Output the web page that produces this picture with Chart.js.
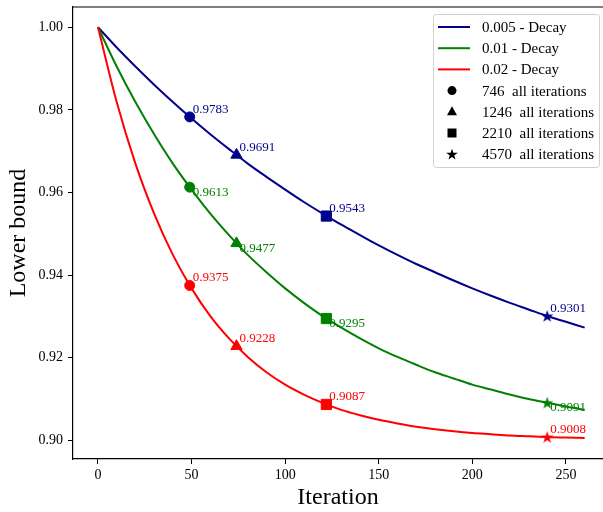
<!DOCTYPE html>
<html>
<head>
<meta charset="utf-8">
<script src="https://cdn.jsdelivr.net/npm/chart.js@4.4.0/dist/chart.umd.min.js"></script>
<style>
  html, body { margin: 0; padding: 0; background: #fff; overflow: hidden; }
  #wrap { width: 603px; height: 512px; }
</style>
</head>
<body>
<div id="wrap"><canvas id="boundChart" width="603" height="512"></canvas></div>
<script>
// curve samples
const iterations = [0, 10, 20, 30, 40, 50, 60, 70, 80, 90, 100, 110, 120, 130,
    140, 150, 160, 170, 180, 190, 200, 210, 220, 230, 240, 250, 260];
const decay005 = [1.0000, 0.9951, 0.9905, 0.9861, 0.9819, 0.9779, 0.9741, 0.9705, 0.9670,
    0.9638, 0.9607, 0.9577, 0.9549, 0.9522, 0.9497, 0.9472, 0.9449, 0.9427, 0.9407,
    0.9387, 0.9368, 0.9350, 0.9333, 0.9317, 0.9301, 0.9287, 0.9273];
const decay01 = [1.0000, 0.9905, 0.9819, 0.9741, 0.9670, 0.9607, 0.9549, 0.9497, 0.9449,
    0.9407, 0.9368, 0.9333, 0.9301, 0.9273, 0.9247, 0.9223, 0.9202, 0.9183, 0.9165,
    0.9150, 0.9135, 0.9123, 0.9111, 0.9100, 0.9091, 0.9082, 0.9074];
const decay02 = [1.0000, 0.9819, 0.9670, 0.9549, 0.9449, 0.9368, 0.9301, 0.9247, 0.9202,
    0.9165, 0.9135, 0.9111, 0.9091, 0.9074, 0.9061, 0.9050, 0.9041, 0.9033, 0.9027,
    0.9022, 0.9018, 0.9015, 0.9012, 0.9010, 0.9008, 0.9007, 0.9006];

// marked points
const markerIter = [49, 74, 122, 240];
const marker005 = [0.9783, 0.9691, 0.9543, 0.9301];
const marker01 = [0.9613, 0.9477, 0.9295, 0.9091];
const marker02 = [0.9375, 0.9228, 0.9087, 0.9008];
const markerNames = ['746  all iterations', '1246  all iterations', '2210  all iterations', '4570  all iterations'];

const seriesNames = ['0.005 - Decay', '0.01 - Decay', '0.02 - Decay'];
const seriesColors = ['#00008b', '#008000', '#ff0000'];

const xTickValues = [0, 50, 100, 150, 200, 250];
const yTickValues = [0.90, 0.92, 0.94, 0.96, 0.98, 1.00];

const FONT = "'Liberation Serif', 'Times New Roman', serif";
Chart.defaults.font.family = FONT;
Chart.defaults.color = '#000';

function starPath(ctx, cx, cy, r) {
    const inner = r * 0.4;
    ctx.beginPath();
    for (let i = 0; i < 10; i++) {
        const rad = (i % 2 === 0) ? r : inner;
        const a = -Math.PI / 2 + i * Math.PI / 5;
        const px = cx + Math.cos(a) * rad, py = cy + Math.sin(a) * rad;
        if (i === 0) ctx.moveTo(px, py); else ctx.lineTo(px, py);
    }
    ctx.closePath();
}

function makeStar(color) {
    const c = document.createElement('canvas');
    c.width = 14; c.height = 14;
    const g = c.getContext('2d');
    g.fillStyle = color;
    starPath(g, 7, 7.5, 6.5);
    g.fill();
    return c;
}

const toPts = (xs, ys) => xs.map((x, i) => ({ x: x, y: ys[i] }));

const curveSet = (ys, i, order) => ({
    label: seriesNames[i],
    data: toPts(iterations, ys),
    borderColor: seriesColors[i],
    borderWidth: 2,
    pointRadius: 0,
    cubicInterpolationMode: 'monotone',
    fill: false,
    order: order
});

const markerSet = (ys, i, shift) => ({
    label: seriesNames[i] + ' marks',
    data: toPts(markerIter, ys),
    showLine: false,
    pointStyle: ['circle', 'triangle', 'rect', makeStar(seriesColors[i])],
    pointRadius: [5, 6.5, 7.2, 7],
    pointBackgroundColor: seriesColors[i],
    pointBorderColor: seriesColors[i],
    pointBorderWidth: 1,
    labelShift: shift,
    labelColor: seriesColors[i],
    order: 0
});

// top spine (right spine falls outside the picture)
const framePlugin = {
    id: 'frame',
    afterDraw(chart) {
        const { ctx, chartArea: a } = chart;
        ctx.save();
        ctx.strokeStyle = '#000';
        ctx.lineWidth = 1.2;
        ctx.beginPath();
        ctx.moveTo(a.left, a.top);
        ctx.lineTo(a.right + 2, a.top);
        ctx.stroke();
        ctx.restore();
    }
};

// value text next to each marker
const valueLabels = {
    id: 'valueLabels',
    afterDatasetsDraw(chart) {
        const ctx = chart.ctx;
        ctx.save();
        ctx.font = '13px ' + FONT;
        ctx.textAlign = 'left';
        ctx.textBaseline = 'middle';
        chart.data.datasets.forEach((ds, di) => {
            if (ds.labelShift === undefined) return;
            const meta = chart.getDatasetMeta(di);
            ctx.fillStyle = ds.labelColor;
            meta.data.forEach((el, i) => {
                ctx.fillText(ds.data[i].y.toFixed(4), el.x + 3, el.y + ds.labelShift);
            });
        });
        ctx.restore();
    }
};

// matplotlib style legend box
const boxLegend = {
    id: 'boxLegend',
    afterDraw(chart) {
        const { ctx, chartArea: a } = chart;
        const w = 166, h = 153;
        const x0 = a.right - 4 - w, y0 = a.top + 7;
        ctx.save();
        ctx.beginPath();
        ctx.roundRect(x0 + 0.5, y0 + 0.5, w, h, 3);
        ctx.fillStyle = 'rgba(255,255,255,0.8)';
        ctx.fill();
        ctx.strokeStyle = '#d0d0d0';
        ctx.lineWidth = 1;
        ctx.stroke();

        ctx.font = '15px ' + FONT;
        ctx.textBaseline = 'middle';
        ctx.textAlign = 'left';
        const rowY = i => y0 + 13 + i * 21.2;
        seriesNames.forEach((name, i) => {
            const y = rowY(i);
            ctx.strokeStyle = seriesColors[i];
            ctx.lineWidth = 2;
            ctx.beginPath();
            ctx.moveTo(x0 + 5, y);
            ctx.lineTo(x0 + 37, y);
            ctx.stroke();
            ctx.fillStyle = '#000';
            ctx.fillText(name, x0 + 49, y + 1);
        });
        markerNames.forEach((name, i) => {
            const y = rowY(i + 3);
            const cx = x0 + 19;
            ctx.fillStyle = '#000';
            ctx.beginPath();
            if (i === 0) {
                ctx.arc(cx, y, 4.5, 0, Math.PI * 2);
            } else if (i === 1) {
                ctx.moveTo(cx, y - 5.5);
                ctx.lineTo(cx + 5, y + 3.5);
                ctx.lineTo(cx - 5, y + 3.5);
                ctx.closePath();
            } else if (i === 2) {
                ctx.rect(cx - 4.5, y - 4.5, 9, 9);
            } else {
                starPath(ctx, cx, y + 0.5, 6);
            }
            ctx.fill();
            ctx.fillText(name, x0 + 49, y + 1);
        });
        ctx.restore();
    }
};

new Chart(document.getElementById('boundChart'), {
    type: 'line',
    data: {
        datasets: [
            markerSet(marker005, 0, -7.5),
            markerSet(marker01, 1, 5),
            markerSet(marker02, 2, -7.5),
            curveSet(decay02, 2, 1),
            curveSet(decay01, 1, 2),
            curveSet(decay005, 0, 3)
        ]
    },
    options: {
        responsive: false,
        animation: false,
        layout: { autoPadding: false, padding: { top: 7, right: 0, left: 0, bottom: 0 } },
        plugins: {
            legend: { display: false },
            tooltip: { enabled: false }
        },
        scales: {
            x: {
                type: 'linear',
                min: -13.35,
                max: 269.8,
                afterFit: s => { s.height = 53; s.paddingLeft = 0; s.paddingRight = 0; },
                afterBuildTicks: s => { s.ticks = xTickValues.map(v => ({ value: v })); },
                border: { display: true, color: '#000', width: 1.2 },
                grid: { drawOnChartArea: false, drawTicks: true, tickLength: 5, color: '#000', tickWidth: 1 },
                ticks: {
                    font: { size: 14 },
                    color: '#000',
                    padding: 3,
                    maxRotation: 0,
                    callback: v => String(v)
                },
                title: {
                    display: true,
                    text: 'Iteration',
                    font: { size: 24 },
                    color: '#000',
                    padding: { top: 0, bottom: 0 }
                }
            },
            y: {
                type: 'linear',
                min: 0.8955,
                max: 1.0049,
                afterFit: s => { s.width = 73; s.paddingTop = 0; s.paddingBottom = 0; },
                afterBuildTicks: s => { s.ticks = yTickValues.map(v => ({ value: v })); },
                border: { display: true, color: '#000', width: 1.2 },
                grid: { drawOnChartArea: false, drawTicks: true, tickLength: 5, color: '#000', tickWidth: 1 },
                ticks: {
                    font: { size: 14 },
                    color: '#000',
                    padding: 5,
                    callback: v => v.toFixed(2)
                },
                title: {
                    display: true,
                    text: 'Lower bound',
                    font: { size: 24 },
                    color: '#000',
                    padding: { top: 4, bottom: 0 }
                }
            }
        }
    },
    plugins: [framePlugin, valueLabels, boxLegend]
});
</script>
</body>
</html>
